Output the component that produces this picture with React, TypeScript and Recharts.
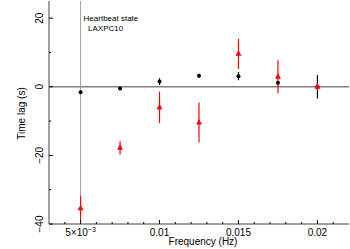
import React from "react";
import { ScatterChart, Scatter, XAxis, YAxis, ErrorBar, ReferenceLine, Label } from "recharts";

// Frequencies (Hz)
const frequencies = [0.005, 0.0075, 0.01, 0.0125, 0.015, 0.0175, 0.02];
// Black points: time lag (s) and error
const blackLag = [-1.6, -0.5, 1.5, 3.2, 3.1, 1.2, 0.0];
const blackErr = [0.5, 0.5, 1.0, 0.6, 1.2, 0.5, 3.4];
// Red triangles: time lag (s) and error
const redLag = [-35.4, -17.8, -6.0, -10.4, 9.6, 2.9, 0.0];
const redErr = [3.5, 2.0, 4.6, 5.8, 4.4, 4.8, 1.0];
// Wide grey error bar at the first frequency
const greyFreq = [0.005];
const greyLag = [-5];
const greyErr = [30];

// Axis ticks
const xMajorTicks = [0.005, 0.01, 0.015, 0.02];
const xTickLabels = ["5×10", "0.01", "0.015", "0.02"];
const xMinorTicks = [0.004, 0.006, 0.007, 0.008, 0.009, 0.011, 0.012, 0.013, 0.014, 0.016, 0.017, 0.018, 0.019, 0.021];
const yMajorTicks = [-40, -20, 0, 20];
const yTickLabels = ["−40", "−20", "0", "20"];
const yMinorTicks = [-30, -10, 10];

const annotation = ["Heartbeat state", "LAXPC10"];

const FONT = "'Liberation Sans', Arial, Helvetica, sans-serif";

const blackData = frequencies.map((f, i) => ({ x: f, y: blackLag[i], err: blackErr[i] }));
const redData = frequencies.map((f, i) => ({ x: f, y: redLag[i], err: redErr[i] }));
const greyData = greyFreq.map((f, i) => ({ x: f, y: greyLag[i], err: greyErr[i] }));

const xTicks = [...xMajorTicks, ...xMinorTicks].sort((a, b) => a - b);
const yTicks = [...yMajorTicks, ...yMinorTicks].sort((a, b) => a - b);

const isMajor = (arr: number[], v: number) => arr.some((m) => Math.abs(m - v) < 1e-9);

const XBottomTick = (props: any) => {
  const { x, y, payload } = props;
  const v = payload.value;
  const idx = xMajorTicks.findIndex((m) => Math.abs(m - v) < 1e-9);
  const len = idx >= 0 ? 4 : 2;
  return (
    <g>
      <line x1={x} y1={y} x2={x} y2={y - len} stroke="#000" strokeWidth={1} />
      {idx >= 0 && (
        <text x={x} y={y + 12} textAnchor="middle" fontSize={10} fontFamily={FONT} fill="#000">
          {xTickLabels[idx]}
          {idx === 0 && (
            <tspan dy={-4} fontSize={7}>
              −3
            </tspan>
          )}
        </text>
      )}
    </g>
  );
};

const XTopTick = (props: any) => {
  const { x, y, payload } = props;
  const len = isMajor(xMajorTicks, payload.value) ? 4 : 2;
  return <line x1={x} y1={y} x2={x} y2={y + len} stroke="#000" strokeWidth={1} />;
};

const YLeftTick = (props: any) => {
  const { x, y, payload } = props;
  const v = payload.value;
  const idx = yMajorTicks.findIndex((m) => Math.abs(m - v) < 1e-9);
  const len = idx >= 0 ? 4 : 2;
  return (
    <g>
      <line x1={x} y1={y} x2={x + len} y2={y} stroke="#000" strokeWidth={1} />
      {idx >= 0 && (
        <text
          x={x - 6}
          y={y}
          textAnchor="middle"
          fontSize={10}
          fontFamily={FONT}
          fill="#000"
          transform={`rotate(-90, ${x - 6}, ${y})`}
        >
          {yTickLabels[idx]}
        </text>
      )}
    </g>
  );
};

const YRightTick = (props: any) => {
  const { x, y, payload } = props;
  const len = isMajor(yMajorTicks, payload.value) ? 4 : 2;
  return <line x1={x} y1={y} x2={x - len} y2={y} stroke="#000" strokeWidth={1} />;
};

const Circle = (props: any) => {
  const { cx, cy } = props;
  return <circle cx={cx} cy={cy} r={2} fill="#000" />;
};

const Triangle = (props: any) => {
  const { cx, cy } = props;
  return <polygon points={`${cx},${cy - 3.5} ${cx - 3},${cy + 2} ${cx + 3},${cy + 2}`} fill="#ff0000" />;
};

const Nothing = () => <g />;

export default function App() {
  return (
    <div style={{ position: "absolute", left: 0, top: 0, width: 350, height: 249 }}>
      <ScatterChart width={350} height={249} margin={{ top: 1, right: 1, left: 0, bottom: 0 }}>
        <XAxis
          xAxisId="b"
          dataKey="x"
          type="number"
          domain={[0.003, 0.022]}
          ticks={xTicks}
          interval={0}
          height={25}
          tickSize={0}
          tickMargin={0}
          tick={<XBottomTick />}
          axisLine={{ stroke: "#808080", strokeWidth: 1.5 }}
          tickLine={false}
          allowDataOverflow
        >
          <Label
            content={(p: any) => {
              const vb = p.viewBox;
              const cx = vb.x + vb.width / 2 + 4;
              return (
                <text x={cx} y={245} textAnchor="middle" fontSize={10} fontFamily={FONT} fill="#000">
                  Frequency (Hz)
                </text>
              );
            }}
          />
        </XAxis>
        <XAxis
          xAxisId="t"
          orientation="top"
          dataKey="x"
          type="number"
          domain={[0.003, 0.022]}
          ticks={xTicks}
          interval={0}
          height={0}
          tickSize={0}
          tickMargin={0}
          tick={<XTopTick />}
          axisLine={{ stroke: "#808080", strokeWidth: 1.5 }}
          tickLine={false}
          allowDataOverflow
        />
        <YAxis
          yAxisId="l"
          dataKey="y"
          type="number"
          domain={[-40, 25]}
          ticks={yTicks}
          interval={0}
          width={49}
          tickSize={0}
          tickMargin={0}
          tick={<YLeftTick />}
          axisLine={{ stroke: "#808080", strokeWidth: 1.5 }}
          tickLine={false}
          allowDataOverflow
        >
          <Label
            content={(p: any) => {
              const vb = p.viewBox;
              const cy = vb.y + vb.height / 2 + 1;
              return (
                <text
                  x={25}
                  y={cy}
                  textAnchor="middle"
                  fontSize={10}
                  fontFamily={FONT}
                  fill="#000"
                  transform={`rotate(-90, 25, ${cy})`}
                >
                  Time lag (s)
                </text>
              );
            }}
          />
        </YAxis>
        <YAxis
          yAxisId="r"
          orientation="right"
          dataKey="y"
          type="number"
          domain={[-40, 25]}
          ticks={yTicks}
          interval={0}
          width={0}
          tickSize={0}
          tickMargin={0}
          tick={<YRightTick />}
          axisLine={{ stroke: "#808080", strokeWidth: 1.5 }}
          tickLine={false}
          allowDataOverflow
        />
        <ReferenceLine xAxisId="b" yAxisId="l" y={0} stroke="#808080" strokeWidth={1.5} />
        <Scatter xAxisId="b" yAxisId="l" data={greyData} shape={<Nothing />} isAnimationActive={false}>
          <ErrorBar dataKey="err" direction="y" width={0} stroke="#a0a0a0" strokeWidth={1} />
        </Scatter>
        <Scatter xAxisId="b" yAxisId="l" data={blackData} shape={<Circle />} isAnimationActive={false}>
          <ErrorBar dataKey="err" direction="y" width={0} stroke="#000" strokeWidth={1.2} />
        </Scatter>
        <Scatter xAxisId="b" yAxisId="l" data={redData} shape={<Triangle />} isAnimationActive={false}>
          <ErrorBar dataKey="err" direction="y" width={0} stroke="#ff0000" strokeWidth={1.2} />
        </Scatter>
        <ReferenceLine
          xAxisId="b"
          yAxisId="l"
          x={0.005}
          stroke="none"
          label={(p: any) => {
            const vb = p.viewBox;
            return (
              <g>
                <text x={vb.x + 3} y={21} fontSize={8} fontFamily={FONT} fill="#000">
                  {annotation[0]}
                </text>
                <text x={vb.x + 7.5} y={31} fontSize={8} fontFamily={FONT} fill="#000">
                  {annotation[1]}
                </text>
              </g>
            );
          }}
        />
      </ScatterChart>
    </div>
  );
}
